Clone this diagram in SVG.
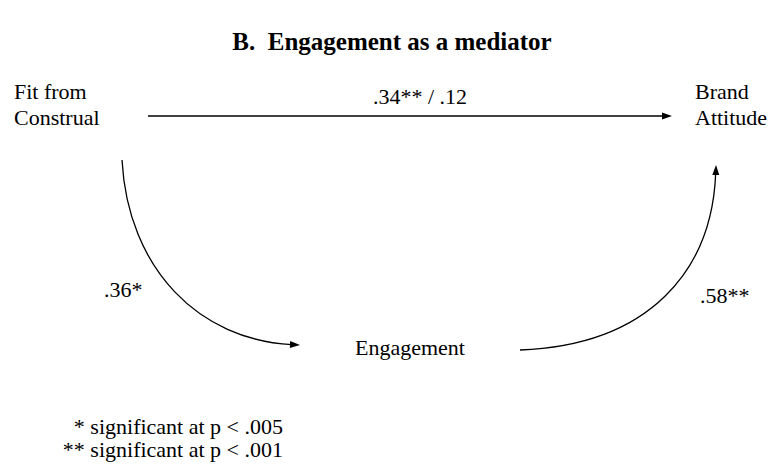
<svg xmlns="http://www.w3.org/2000/svg" width="769" height="466" viewBox="0 0 769 466">
<style>
.c{fill:none;stroke:#000;stroke-width:1.3}
.h{fill:#000;stroke:none}
</style>
<rect width="769" height="466" fill="#fff"/>
<g id="heading">
<text x="392" y="50" text-anchor="middle" font-family="Liberation Serif" font-weight="bold" font-size="25" fill="#000" xml:space="preserve">B.  Engagement as a mediator</text>
</g>
<g id="fit">
<text x="14" y="99" font-family="Liberation Serif" font-size="22" fill="#000">Fit from</text>
<text x="14" y="125" font-family="Liberation Serif" font-size="22" fill="#000">Construal</text>
</g>
<g id="brand">
<text x="695" y="99" font-family="Liberation Serif" font-size="22" fill="#000">Brand</text>
<text x="695" y="125" font-family="Liberation Serif" font-size="22" fill="#000">Attitude</text>
</g>
<g id="engagement">
<text x="355" y="355" font-family="Liberation Serif" font-size="22" fill="#000">Engagement</text>
</g>
<g id="connectors">
<line class="c" x1="148" y1="116" x2="664" y2="116"/>
<polygon class="h" points="672,116 662,112.5 662,119.5"/>
<path class="c" d="M122,160 C128,270 200,340 292,344.6"/>
<polygon class="h" points="300,345 290.2,341.1 289.8,348.1"/>
<path class="c" d="M520,350 C650,345 712,270 715.7,173"/>
<polygon class="h" points="716,165 712.3,174.9 719.3,175.1"/>
</g>
<g id="labels">
<text x="420" y="104" text-anchor="middle" font-family="Liberation Serif" font-size="22" fill="#000">.34** / .12</text>
<text x="104" y="297" font-family="Liberation Serif" font-size="22" fill="#000">.36*</text>
<text x="700" y="303" font-family="Liberation Serif" font-size="22" fill="#000">.58**</text>
</g>
<g id="footnote">
<text x="283" y="434" text-anchor="end" font-family="Liberation Serif" font-size="22" fill="#000">* significant at p &lt; .005</text>
<text x="283" y="457" text-anchor="end" font-family="Liberation Serif" font-size="22" fill="#000">** significant at p &lt; .001</text>
</g>
</svg>
